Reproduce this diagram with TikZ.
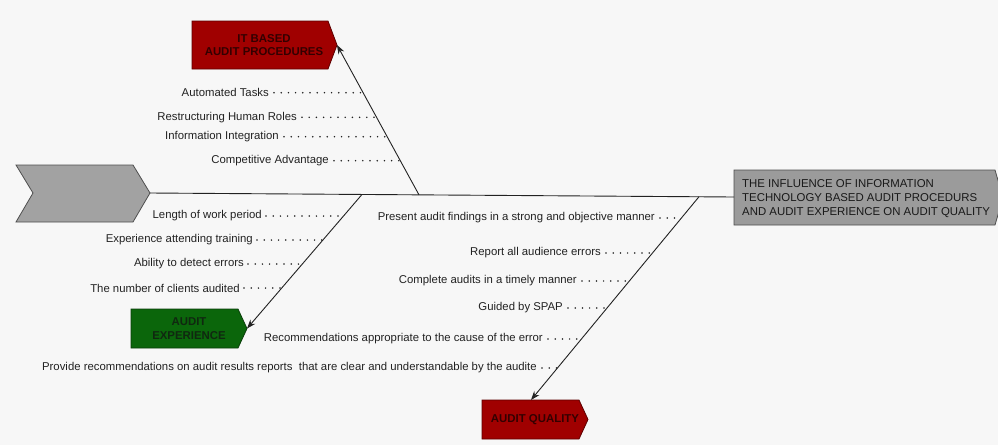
\documentclass[tikz,border=0pt]{standalone}
\usepackage{fontspec}
\setmainfont{Liberation Sans}
\usetikzlibrary{calc,intersections,arrows.meta}
\definecolor{bgc}{HTML}{F7F7F7}
\definecolor{redf}{HTML}{A00000}
\definecolor{redd}{HTML}{5C0000}
\definecolor{redt}{HTML}{330000}
\definecolor{grnf}{HTML}{0B660B}
\definecolor{grnd}{HTML}{0A3D0A}
\definecolor{grnt}{HTML}{102810}
\definecolor{tailf}{HTML}{A2A2A2}
\definecolor{headf}{HTML}{9B9B9B}
\definecolor{ink}{HTML}{222222}
\begin{document}
\begin{tikzpicture}[x=1pt,y=-1pt,
  lbl/.style={inner sep=0pt,text=ink,font=\fontsize{11.35}{13}\selectfont},
  boxtxt/.style={inner sep=0pt,align=center,font=\bfseries\fontsize{11.4}{13.5}\selectfont},
  leader/.style={draw=ink,line width=1.7pt,dash pattern=on 0pt off 7.2pt,line cap=round},
  bone/.style={draw=ink,line width=0.9pt},
  branch/.style={draw=ink,line width=0.9pt,-{Stealth[length=9pt,width=6.5pt]}},
  shapeline/.style={line width=0.8pt}
]
\fill[bgc] (0,0) rectangle (998,445);
\useasboundingbox (0,0) rectangle (998,445);

% tail
\filldraw[shapeline,fill=tailf,draw=ink!80] (16,165) -- (133,165) -- (150,193) -- (133,222) -- (16,222) -- (33,193) -- cycle;
\coordinate (tailtip) at (150,193);

% head
\filldraw[shapeline,fill=headf,draw=ink!80] (734,170) -- (995,170) -- (1003,197.5) -- (995,225) -- (734,225) -- cycle;
\coordinate (headL) at (734,197);
\node[anchor=west,inner sep=0pt,align=left,text=black!90,font=\fontsize{11.4}{13.7}\selectfont] (head) at (742,198.5)
  {THE INFLUENCE OF INFORMATION\\TECHNOLOGY BASED AUDIT PROCEDURS\\AND AUDIT EXPERIENCE ON AUDIT QUALITY};

% spine
\draw[bone] (tailtip) -- (headL);

% category boxes
\filldraw[shapeline,fill=redf,draw=redd] (192,21) -- (328,21) -- (337,45) -- (328,69) -- (192,69) -- cycle;
\coordinate (ittip) at (337,45);
\node[boxtxt,text=redt] (itbox) at (264,45) {IT BASED\\AUDIT PROCEDURES};

\filldraw[shapeline,fill=grnf,draw=grnd] (131,309) -- (238,309) -- (247,328.5) -- (238,348) -- (131,348) -- cycle;
\coordinate (aetip) at (247,328.5);
\node[boxtxt,text=grnt] (aebox) at (189,328.5) {AUDIT\\EXPERIENCE};

\filldraw[shapeline,fill=redf,draw=redd] (482,400) -- (579,400) -- (588,419.5) -- (579,439) -- (482,439) -- cycle;
\coordinate (aqtop) at (531,400);
\node[boxtxt,text=redt] (aqbox) at (535,420) {AUDIT QUALITY};

% branches
\coordinate (itroot) at ($(tailtip)!0.4606!(headL)$);
\coordinate (aeroot) at ($(tailtip)!0.363!(headL)$);
\coordinate (aqroot) at ($(tailtip)!0.940!(headL)$);
\draw[branch,name path=itline] (itroot) -- (ittip);
\draw[branch,name path=aeline] (aeroot) -- (aetip);
\draw[branch,name path=aqline] (aqroot) -- (aqtop);

% causes with dotted leaders
\foreach \n/\x/\y/\t in {
  a1/269/92.7/Automated Tasks,
  a2/297/117.3/Restructuring Human Roles,
  a3/279/136.7/Information Integration,
  a4/329/160.7/Competitive Advantage}{
  \node[lbl,anchor=east] (\n) at (\x,\y) {\t};
  \path[name path=h\n] (\n.east) -- ++(200,0);
  \path[name intersections={of=itline and h\n,by=e\n}];
  \draw[leader] ([xshift=5pt]\n.east) -- (e\n);
}
\foreach \n/\x/\y/\t in {
  b1/262/216/Length of work period,
  b2/253/240/Experience attending training,
  b3/244/264/Ability to detect errors,
  b4/240/288/The number of clients audited}{
  \node[lbl,anchor=east] (\n) at (\x,\y) {\t};
  \path[name path=h\n] (\n.east) -- ++(200,0);
  \path[name intersections={of=aeline and h\n,by=e\n}];
  \draw[leader] ([xshift=4pt]\n.east) -- (e\n);
}
\foreach \n/\x/\y/\t in {
  c1/655/218/Present audit findings in a strong and objective manner,
  c2/601/253/Report all audience errors,
  c3/577/281/Complete audits in a timely manner,
  c4/563/308/Guided by SPAP,
  c5/543/339/Recommendations appropriate to the cause of the error,
  c6/537/368/Provide recommendations on audit results reports~ that are clear and understandable by the audite}{
  \node[lbl,anchor=east] (\n) at (\x,\y) {\t};
  \path[name path=h\n] (\n.east) -- ++(200,0);
  \path[name intersections={of=aqline and h\n,by=e\n}];
  \draw[leader] ([xshift=5pt]\n.east) -- (e\n);
}
\end{tikzpicture}
\end{document}
